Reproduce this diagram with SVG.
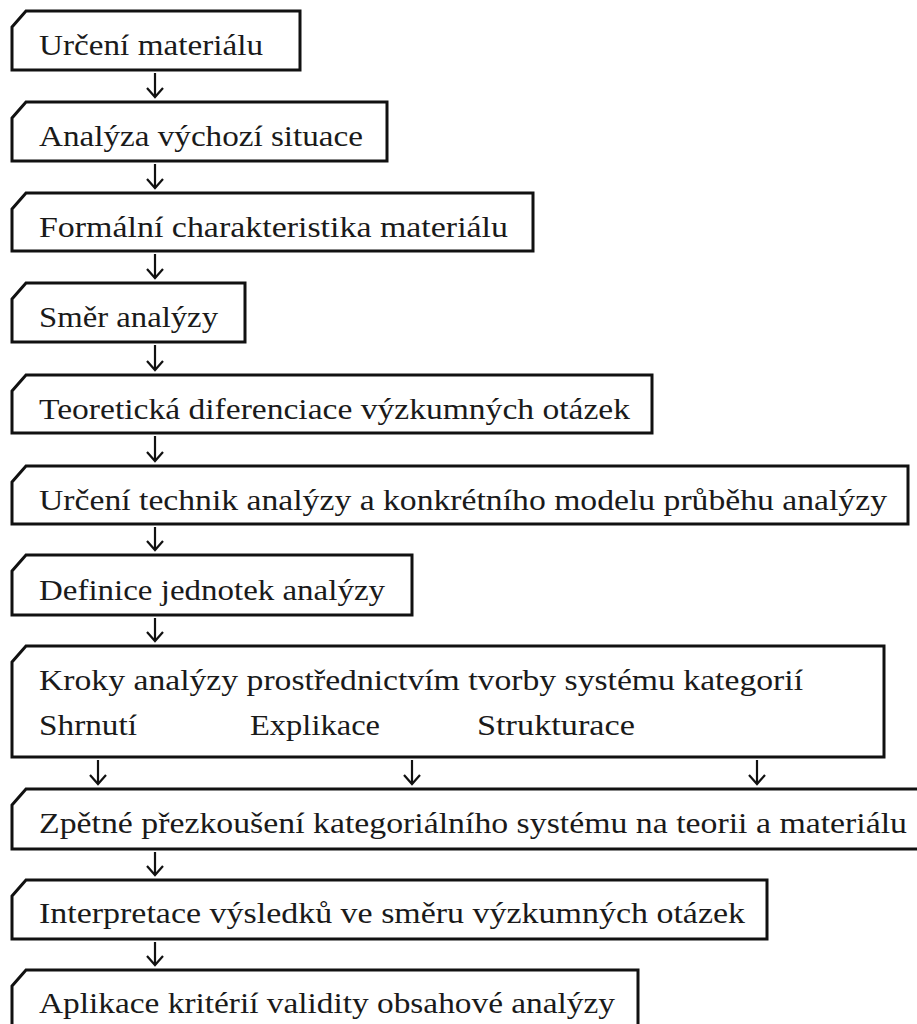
<svg xmlns="http://www.w3.org/2000/svg" width="917" height="1024" viewBox="0 0 917 1024">
<style>
.box{fill:#fff;stroke:#111;stroke-width:3;stroke-linejoin:miter}
.t{font-family:"Liberation Serif","DejaVu Serif",serif;font-size:29px;fill:#1a1a1a}
.arr{fill:none;stroke:#111;stroke-width:2.2}
</style>
<defs>
<marker id="ah" viewBox="0 0 18 12" refX="9" refY="11" markerWidth="18" markerHeight="12" markerUnits="userSpaceOnUse" orient="auto-start-reverse">
<path d="M1,2 L9,11 L17,2" fill="none" stroke="#111" stroke-width="2.2"/>
</marker>
</defs>
<g id="connectors">
<path class="arr" d="M155,73 V97"/><path class="arr" d="M147,88 L155,97 L163,88"/>
<path class="arr" d="M155,164 V188"/><path class="arr" d="M147,179 L155,188 L163,179"/>
<path class="arr" d="M155,254 V278"/><path class="arr" d="M147,269 L155,278 L163,269"/>
<path class="arr" d="M155,345 V370"/><path class="arr" d="M147,361 L155,370 L163,361"/>
<path class="arr" d="M155,436 V461"/><path class="arr" d="M147,452 L155,461 L163,452"/>
<path class="arr" d="M155,527 V550"/><path class="arr" d="M147,541 L155,550 L163,541"/>
<path class="arr" d="M155,618 V641"/><path class="arr" d="M147,632 L155,641 L163,632"/>
<path class="arr" d="M98,760 V784"/><path class="arr" d="M90,775 L98,784 L106,775"/>
<path class="arr" d="M412,760 V784"/><path class="arr" d="M404,775 L412,784 L420,775"/>
<path class="arr" d="M757,760 V784"/><path class="arr" d="M749,775 L757,784 L765,775"/>
<path class="arr" d="M155,852 V875"/><path class="arr" d="M147,866 L155,875 L163,866"/>
<path class="arr" d="M155,942 V965"/><path class="arr" d="M147,956 L155,965 L163,956"/>
</g>
<g id="n1"><path class="box" d="M12,27 L26,11 H300 V70 H12 Z"/><text class="t" x="39" y="55" textLength="224" lengthAdjust="spacingAndGlyphs">Určení materiálu</text></g>
<g id="n2"><path class="box" d="M12,118 L26,102 H387 V161 H12 Z"/><text class="t" x="39" y="146" textLength="324" lengthAdjust="spacingAndGlyphs">Analýza výchozí situace</text></g>
<g id="n3"><path class="box" d="M12,209 L26,193 H533 V251 H12 Z"/><text class="t" x="39" y="237" textLength="469" lengthAdjust="spacingAndGlyphs">Formální charakteristika materiálu</text></g>
<g id="n4"><path class="box" d="M12,299 L26,283 H245 V342 H12 Z"/><text class="t" x="39" y="327" textLength="179" lengthAdjust="spacingAndGlyphs">Směr analýzy</text></g>
<g id="n5"><path class="box" d="M12,391 L26,375 H652 V433 H12 Z"/><text class="t" x="39" y="419" textLength="591" lengthAdjust="spacingAndGlyphs">Teoretická diferenciace výzkumných otázek</text></g>
<g id="n6"><path class="box" d="M12,482 L26,466 H908 V524 H12 Z"/><text class="t" x="39" y="510" textLength="848" lengthAdjust="spacingAndGlyphs">Určení technik analýzy a konkrétního modelu průběhu analýzy</text></g>
<g id="n7"><path class="box" d="M12,571 L26,555 H412 V615 H12 Z"/><text class="t" x="39" y="600" textLength="346" lengthAdjust="spacingAndGlyphs">Definice jednotek analýzy</text></g>
<g id="n8"><path class="box" d="M12,662 L26,646 H884 V757 H12 Z"/>
<text class="t" x="39" y="690" textLength="764" lengthAdjust="spacingAndGlyphs">Kroky analýzy prostřednictvím tvorby systému kategorií</text>
<text class="t" x="39" y="735" textLength="98" lengthAdjust="spacingAndGlyphs">Shrnutí</text>
<text class="t" x="250" y="735" textLength="130" lengthAdjust="spacingAndGlyphs">Explikace</text>
<text class="t" x="477" y="735" textLength="158" lengthAdjust="spacingAndGlyphs">Strukturace</text></g>
<g id="n9"><path class="box" d="M12,805 L26,789 H935 V849 H12 Z"/><text class="t" x="39" y="833" textLength="868" lengthAdjust="spacingAndGlyphs">Zpětné přezkoušení kategoriálního systému na teorii a materiálu</text></g>
<g id="n10"><path class="box" d="M12,896 L26,880 H767 V939 H12 Z"/><text class="t" x="39" y="923" textLength="706" lengthAdjust="spacingAndGlyphs">Interpretace výsledků ve směru výzkumných otázek</text></g>
<g id="n11"><path class="box" d="M12,986 L26,970 H638 V1040 H12 Z"/><text class="t" x="39" y="1013" textLength="576" lengthAdjust="spacingAndGlyphs">Aplikace kritérií validity obsahové analýzy</text></g>
</svg>
